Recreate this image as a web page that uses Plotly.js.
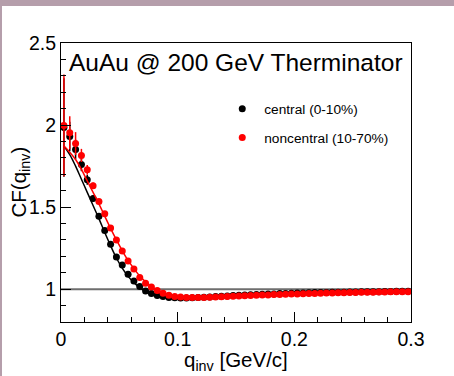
<!DOCTYPE html>
<html>
<head>
<meta charset="utf-8">
<script src="https://cdn.plot.ly/plotly-3.0.1.min.js"></script>
<style>
  html, body { margin: 0; padding: 0; background: #ffffff; }
  #wrap { position: relative; width: 454px; height: 376px; overflow: hidden; }
  #chart { position: absolute; left: 0; top: 0; width: 454px; height: 376px; }
  #bandTop { position: absolute; left: 0; top: 0; width: 454px; height: 6px; background: #b59eab; z-index: 5; }
  #bandLeft { position: absolute; left: 0; top: 0; width: 2px; height: 376px; background: #b59eab; z-index: 5; }
</style>
</head>
<body>
<div id="wrap">
  <div id="chart"></div>
  <div id="bandTop"></div>
  <div id="bandLeft"></div>
</div>
<script>
// ---- data ----
const qBins = [
  0.0025, 0.0075, 0.0125, 0.0175, 0.0225, 0.0275, 0.0325, 0.0375, 0.0425, 0.0475,
  0.0525, 0.0575, 0.0625, 0.0675, 0.0725, 0.0775, 0.0825, 0.0875, 0.0925, 0.0975,
  0.1025, 0.1075, 0.1125, 0.1175, 0.1225, 0.1275, 0.1325, 0.1375, 0.1425, 0.1475,
  0.1525, 0.1575, 0.1625, 0.1675, 0.1725, 0.1775, 0.1825, 0.1875, 0.1925, 0.1975,
  0.2025, 0.2075, 0.2125, 0.2175, 0.2225, 0.2275, 0.2325, 0.2375, 0.2425, 0.2475,
  0.2525, 0.2575, 0.2625, 0.2675, 0.2725, 0.2775, 0.2825, 0.2875, 0.2925, 0.2975
];
const centralCF = [
  1.985, 1.930, 1.851, 1.759, 1.666, 1.553, 1.445, 1.358, 1.273, 1.196,
  1.148, 1.091, 1.050, 1.016, 0.989, 0.974, 0.962, 0.955, 0.950, 0.947,
  0.946, 0.946, 0.947, 0.949, 0.951, 0.953, 0.955, 0.957, 0.959, 0.961,
  0.963, 0.964, 0.966, 0.967, 0.969, 0.970, 0.971, 0.973, 0.974, 0.975,
  0.976, 0.977, 0.978, 0.979, 0.980, 0.980, 0.981, 0.982, 0.982, 0.983,
  0.983, 0.984, 0.984, 0.985, 0.985, 0.986, 0.986, 0.987, 0.987, 0.988
];
const centralErr = [
  0.30, 0.09, 0.06, 0.04, 0.03, 0.02, 0.015, 0.01, 0.008, 0.006,
  0.005, 0.005, 0.004, 0.004, 0.004, 0.004, 0.004, 0.004, 0.004, 0.004,
  0.003, 0.003, 0.003, 0.003, 0.003, 0.003, 0.003, 0.003, 0.003, 0.003,
  0.003, 0.003, 0.003, 0.003, 0.003, 0.003, 0.003, 0.003, 0.003, 0.003,
  0.003, 0.003, 0.003, 0.003, 0.003, 0.003, 0.003, 0.003, 0.003, 0.003,
  0.003, 0.003, 0.003, 0.003, 0.003, 0.003, 0.003, 0.003, 0.003, 0.003
];
const noncentralCF = [
  1.998, 1.953, 1.887, 1.815, 1.727, 1.630, 1.534, 1.460, 1.373, 1.299,
  1.232, 1.171, 1.123, 1.071, 1.036, 1.014, 0.992, 0.975, 0.963, 0.956,
  0.952, 0.950, 0.949, 0.949, 0.950, 0.951, 0.952, 0.954, 0.955, 0.957,
  0.958, 0.960, 0.961, 0.963, 0.964, 0.965, 0.967, 0.968, 0.969, 0.970,
  0.971, 0.972, 0.973, 0.974, 0.975, 0.976, 0.977, 0.978, 0.978, 0.979,
  0.980, 0.981, 0.981, 0.982, 0.983, 0.983, 0.984, 0.984, 0.985, 0.985
];
const noncentralErr = [
  0.31, 0.10, 0.07, 0.04, 0.03, 0.02, 0.015, 0.01, 0.008, 0.006,
  0.005, 0.005, 0.004, 0.004, 0.004, 0.004, 0.004, 0.004, 0.004, 0.004,
  0.003, 0.003, 0.003, 0.003, 0.003, 0.003, 0.003, 0.003, 0.003, 0.003,
  0.003, 0.003, 0.003, 0.003, 0.003, 0.003, 0.003, 0.003, 0.003, 0.003,
  0.003, 0.003, 0.003, 0.003, 0.003, 0.003, 0.003, 0.003, 0.003, 0.003,
  0.003, 0.003, 0.003, 0.003, 0.003, 0.003, 0.003, 0.003, 0.003, 0.003
];
// fit curves
const fitQ = [
  0.0025, 0.0075, 0.0125, 0.0175, 0.0225, 0.0275, 0.0325, 0.0375, 0.0425, 0.0475,
  0.0525, 0.0575, 0.0625, 0.0675, 0.0725, 0.0775, 0.0825, 0.0875, 0.0925, 0.0975,
  0.1025, 0.1125, 0.1275, 0.1525, 0.2025, 0.2525, 0.2975
];
const centralFit = [
  1.872, 1.820, 1.750, 1.670, 1.590, 1.510, 1.430, 1.345, 1.265, 1.190,
  1.128, 1.078, 1.040, 1.010, 0.988, 0.972, 0.961, 0.954, 0.949, 0.947,
  0.946, 0.947, 0.952, 0.962, 0.975, 0.982, 0.986
];
const noncentralFit = [
  1.872, 1.835, 1.790, 1.730, 1.660, 1.590, 1.520, 1.445, 1.370, 1.300,
  1.235, 1.175, 1.125, 1.080, 1.045, 1.015, 0.993, 0.977, 0.965, 0.957,
  0.952, 0.948, 0.950, 0.958, 0.971, 0.980, 0.985
];
const refQ = [0, 0.3];
const refCF = [1, 1];
const seriesNames = ["central (0-10%)", "noncentral (10-70%)"];
const titleText = "AuAu @ 200 GeV Therminator";

const FONT = "Liberation Sans, Arial, Helvetica, sans-serif";

const traces = [
  { x: refQ, y: refCF, mode: "lines", line: {color: "#6e6e6e", width: 2},
    showlegend: false, hoverinfo: "skip" },
  { x: qBins, y: centralCF, mode: "markers", name: seriesNames[0],
    marker: {color: "#000000", size: 7},
    error_y: {type: "data", array: centralErr, color: "#000000", thickness: 1.5, width: 0},
    legendgroup: "a" },
  { x: fitQ, y: centralFit, mode: "lines", line: {color: "#000000", width: 1.5, shape: "spline"},
    showlegend: false, hoverinfo: "skip" },
  { x: qBins, y: noncentralCF, mode: "markers", name: seriesNames[1],
    marker: {color: "#ff0000", size: 7},
    error_y: {type: "data", array: noncentralErr, color: "#ff0000", thickness: 1.5, width: 0},
    legendgroup: "b" },
  { x: fitQ, y: noncentralFit, mode: "lines", line: {color: "#ff0000", width: 1.5, shape: "spline"},
    showlegend: false, hoverinfo: "skip" }
];

const layout = {
  width: 454, height: 376,
  margin: {l: 61, r: 43, t: 43, b: 54, pad: 0},
  paper_bgcolor: "#ffffff", plot_bgcolor: "#ffffff",
  font: {family: FONT, color: "#000000"},
  showlegend: true,
  legend: {
    x: 0.455, y: 0.82, xanchor: "left", yanchor: "top",
    bgcolor: "rgba(0,0,0,0)", borderwidth: 0,
    font: {family: FONT, size: 13.7, color: "#000000"},
    traceorder: "grouped", tracegroupgap: 8, itemwidth: 34
  },
  xaxis: {
    range: [0, 0.3], dtick: 0.1, tick0: 0,
    ticks: "inside", ticklen: 10, tickwidth: 1, tickcolor: "#000",
    minor: {dtick: 0.02, ticks: "inside", ticklen: 5, tickcolor: "#000", showgrid: false},
    showline: true, mirror: true, linecolor: "#000", linewidth: 1,
    showgrid: false, zeroline: false,
    tickfont: {family: FONT, size: 19.5, color: "#000"}
  },
  yaxis: {
    range: [0.8, 2.5], dtick: 0.5, tick0: 0,
    ticks: "inside", ticklen: 10, tickwidth: 1, tickcolor: "#000",
    minor: {dtick: 0.1, ticks: "inside", ticklen: 5, tickcolor: "#000", showgrid: false},
    showline: true, mirror: true, linecolor: "#000", linewidth: 1,
    showgrid: false, zeroline: false,
    tickfont: {family: FONT, size: 19.5, color: "#000"}
  },
  annotations: [
    { text: titleText, xref: "paper", yref: "paper", x: 0.5, y: 1, yshift: -19,
      xanchor: "center", yanchor: "middle", showarrow: false,
      font: {family: FONT, size: 24.5, color: "#000"} },
    { text: "q<sub>inv</sub> [GeV/c]", xref: "paper", yref: "paper", x: 0.5, y: 0, yshift: -39,
      xanchor: "center", yanchor: "middle", showarrow: false,
      font: {family: FONT, size: 20.5, color: "#000"} },
    { text: "CF(q<sub>inv</sub>)", xref: "paper", yref: "paper", x: 0, xshift: -42, y: 0.5,
      xanchor: "center", yanchor: "middle", textangle: -90, showarrow: false,
      font: {family: FONT, size: 20.5, color: "#000"} }
  ]
};

Plotly.newPlot("chart", traces, layout, {displayModeBar: false, staticPlot: true});
</script>
</body>
</html>
